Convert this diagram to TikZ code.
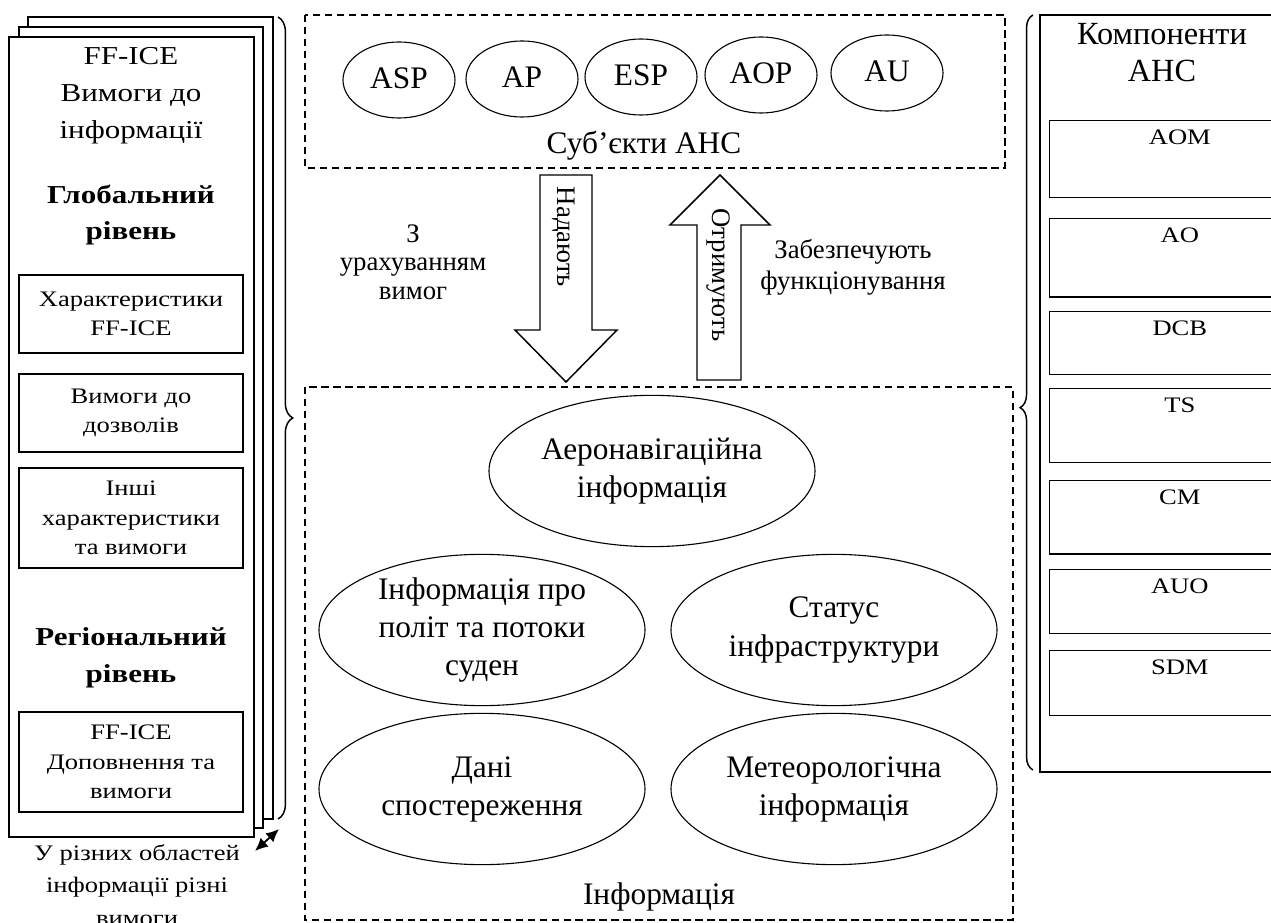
\documentclass[tikz,border=0pt]{standalone}
\usepackage{fontspec}
\setmainfont{Liberation Serif}[FakeStretch=1.2]
\newfontfamily\plainrm{Liberation Serif}
\usetikzlibrary{arrows.meta, positioning, decorations.pathreplacing, shapes.geometric}

\newcommand{\bigtxt}{\fontsize{14}{20}\selectfont}
\newcommand{\midtxt}{\fontsize{12}{16}\selectfont}
\newcommand{\captxt}{\fontsize{12}{17.6}\selectfont}
\newcommand{\toptxt}{\plainrm\fontsize{17}{20}\selectfont}
\newcommand{\ellfont}{\plainrm\fontsize{17}{20.6}\selectfont}
\newcommand{\notetxt}{\plainrm\fontsize{14.5}{15.5}\selectfont}
\newcommand{\notewide}{\plainrm\fontsize{14.5}{16.8}\selectfont}

\begin{document}
\begin{tikzpicture}[x=0.542pt, y=-0.542pt,
    sheet/.style={draw, fill=white, line width=0.8pt},
    reqbox/.style={draw, line width=0.8pt, minimum width=121.4pt, align=center, font=\midtxt, inner sep=2pt},
    compbox/.style={draw, line width=0.8pt, minimum width=141pt, anchor=north west, inner sep=0pt},
    actor/.style={ellipse, draw, line width=0.6pt, minimum width=60.7pt, minimum height=41.2pt, inner sep=0pt, font=\toptxt},
    infoell/.style={ellipse, draw, line width=0.6pt, minimum width=176.7pt, minimum height=82pt, align=center, inner sep=0pt, font=\ellfont},
    group/.style={draw, dash pattern=on 4pt off 2.5pt, line width=0.6pt},
    flow/.style={draw, fill=white, line width=0.8pt}]
    \useasboundingbox (0,0) rectangle (1271,923);

    % Stack of requirement sheets
    \draw[sheet] (28,17) rectangle (273,819);
    \draw[sheet] (19,27) rectangle (263,828);
    \draw[sheet] (9,37) rectangle (254,837);
    \node[font=\bigtxt, align=center] at (131,96) (reqtitle) {FF-ICE\\Вимоги до\\інформації};
    \node[font=\bigtxt\bfseries, align=center] at (131,215) (global) {Глобальний\\рівень};
    \node[reqbox, minimum height=42.3pt] at (131,314) (ffchar) {Характеристики\\FF-ICE};
    \node[reqbox, minimum height=42.3pt] at (131,413) (permit) {Вимоги до\\дозволів};
    \node[reqbox, minimum height=54.2pt] at (131,518) (other) {Інші\\характеристики\\та вимоги};
    \node[font=\bigtxt\bfseries, align=center] at (131,658) (regional) {Регіональний\\рівень};
    \node[reqbox, minimum height=54.2pt] at (131,762) (supp) {FF-ICE\\Доповнення та\\вимоги};
    \node[font=\captxt, align=center] at (137,885) (areas) {У різних областей\\інформації різні\\вимоги};

    % Double arrow at the sheets
    \coordinate (dl) at (255,851);
    \coordinate (dr) at (279,829);
    \draw[{Latex[length=7pt,width=6.5pt]}-{Latex[length=7pt,width=6.5pt]}, line width=1pt] (dl) -- (dr);

    % Braces
    \draw[line width=0.8pt, decorate, decoration={brace, amplitude=8pt}] (278,17) -- (278,819);
    \draw[line width=0.8pt, decorate, decoration={brace, amplitude=7pt, aspect=0.48}] (1033,770) -- (1033,15);

    % Subjects
    \draw[group] (305,15) rectangle (1005,168);
    \node[actor] at (399,80) (asp) {\raisebox{2pt}{ASP}};
    \node[actor] at (522,79) (ap) {\raisebox{2pt}{AP}};
    \node[actor] at (641,77) (esp) {\raisebox{2pt}{ESP}};
    \node[actor] at (761,75) (aop) {\raisebox{2pt}{AOP}};
    \node[actor] at (887,73) (au) {\raisebox{2.4pt}{AU}};
    \node[font=\toptxt] at (644,146) (subj) {Суб’єкти АНС};

    % Block arrows
    \draw[flow] (540,175) -- (592,175) -- (592,330) -- (617,330) -- (566,382) -- (515,330) -- (540,330) -- cycle;
    \node[rotate=-90, font=\notetxt] at (564,237) (provide) {Надають};
    \draw[flow] (697,380) -- (741,380) -- (741,225) -- (770,225) -- (720,175) -- (670,225) -- (697,225) -- cycle;
    \node[rotate=-90, font=\notetxt] at (718,275) (receive) {Отримують};
    \node[font=\notetxt, align=center] at (413,262) (account) {З\\урахуванням\\вимог};
    \node[font=\notewide, align=center] at (853,267) (ensure) {Забезпечують\\функціонування};

    % Information
    \draw[group] (305,387) rectangle (1013,920);
    \node[infoell] at (652,471) (aero) {Аеронавігаційна\\інформація};
    \node[infoell] at (482,630) (flight) {Інформація про\\політ та потоки\\суден};
    \node[infoell] at (834,630) (infra) {Статус\\інфраструктури};
    \node[infoell] at (482,789) (obs) {Дані\\спостереження};
    \node[infoell] at (834,789) (meteo) {Метеорологічна\\інформація};
    \node[font=\toptxt] at (659,897) (info) {Інформація};

    % Components
    \draw[line width=0.8pt] (1290,15) -| (1040,772) -- (1290,772);
    \node[font=\plainrm\fontsize{17.5}{20}\selectfont, align=center] at (1162,53) (comptitle) {Компоненти\\АНС};
    \node[compbox, minimum height=41.7pt] at (1049,120) (aom) {};
    \node[compbox, minimum height=42.3pt] at (1049,218) (ao) {};
    \node[compbox, minimum height=34.1pt] at (1049,311) (dcb) {};
    \node[compbox, minimum height=40.1pt] at (1049,388) (ts) {};
    \node[compbox, minimum height=39.6pt] at (1049,480) (cm) {};
    \node[compbox, minimum height=34.7pt] at (1049,569) (auo) {};
    \node[compbox, minimum height=35.2pt] at (1049,650) (sdm) {};
    \node[font=\midtxt, below=2pt of aom.north] (aomtxt) {AOM};
    \node[font=\midtxt, below=2pt of ao.north] (aotxt) {AO};
    \node[font=\midtxt, below=2pt of dcb.north] (dcbtxt) {DCB};
    \node[font=\midtxt, below=2pt of ts.north] (tstxt) {TS};
    \node[font=\midtxt, below=2pt of cm.north] (cmtxt) {CM};
    \node[font=\midtxt, below=2pt of auo.north] (auotxt) {AUO};
    \node[font=\midtxt, below=2pt of sdm.north] (sdmtxt) {SDM};
\end{tikzpicture}
\end{document}
